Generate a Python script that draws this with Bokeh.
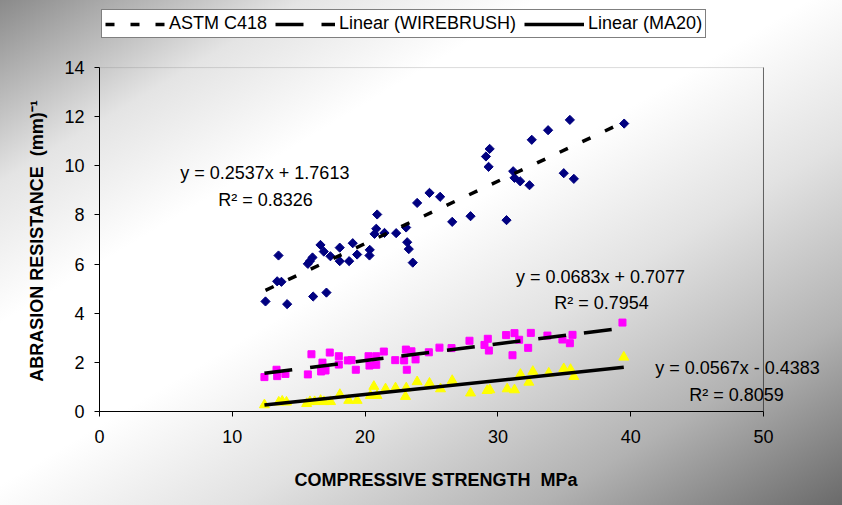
import numpy as np
from bokeh.plotting import figure
from bokeh.models import Range1d, Label, Legend, LegendItem, BoxAnnotation, FixedTicker
from bokeh.embed import file_html
from bokeh.resources import INLINE

# ---------------- data ----------------
blue_x = [12.50, 14.13, 13.48, 13.38, 13.70, 16.09, 17.09, 15.69, 15.84, 16.04,
          16.64, 16.89, 17.39, 18.09, 18.09, 18.80, 19.07, 19.40, 20.35, 20.33,
          20.71, 20.84, 20.91, 21.46, 22.34, 23.09, 23.17, 23.29, 23.59, 23.92,
          24.85, 25.65, 26.56, 27.94, 29.10, 29.38, 29.30, 30.65, 31.15, 31.25,
          31.68, 32.38, 32.55, 33.78, 34.96, 35.42, 35.72, 39.51]
blue_y = [4.48, 4.37, 6.35, 5.30, 5.28, 4.68, 4.84, 6.01, 6.12, 6.27,
          6.78, 6.51, 6.32, 6.67, 6.12, 6.12, 6.85, 6.39, 6.58, 6.35,
          7.23, 7.44, 8.02, 7.27, 7.26, 7.49, 6.89, 6.61, 6.06, 8.49,
          8.90, 8.74, 7.72, 7.95, 10.38, 10.69, 9.96, 7.79, 9.78, 9.51,
          9.37, 9.21, 11.06, 11.45, 9.70, 11.87, 9.47, 11.72]

pink_x = [12.42, 13.33, 13.38, 14.00, 15.96, 15.69, 16.79, 16.69, 17.02, 17.34,
          18.02, 18.02, 18.70, 18.98, 19.30, 20.26, 20.84, 20.33, 20.84, 21.41,
          22.27, 22.94, 23.07, 23.49, 23.14, 23.80, 24.80, 25.60, 26.51, 27.86,
          29.24, 28.99, 29.32, 30.62, 31.25, 31.60, 31.10, 32.48, 32.28, 33.73,
          34.86, 35.62, 35.42, 39.38]
pink_y = [1.40, 1.70, 1.44, 1.53, 2.33, 1.51, 1.99, 1.63, 1.67, 2.40,
          2.25, 1.91, 2.08, 2.09, 1.70, 2.25, 2.25, 1.87, 1.90, 2.44,
          2.09, 2.08, 2.52, 2.45, 1.70, 2.12, 2.41, 2.60, 2.58, 2.88,
          2.96, 2.71, 2.48, 3.11, 3.19, 2.92, 2.29, 3.20, 2.59, 3.09,
          2.93, 3.12, 2.78, 3.62]

yellow_x = [12.42, 13.50, 13.76, 14.08, 15.60, 15.85, 16.20, 16.65, 16.90, 17.40,
            18.10, 18.77, 19.40, 20.66, 20.40, 20.90, 21.54, 22.29, 23.10, 23.04,
            23.92, 24.85, 25.68, 26.56, 27.94, 29.19, 29.39, 30.70, 31.25, 31.70,
            32.33, 32.63, 33.83, 34.96, 35.47, 35.72, 39.48]
yellow_y = [0.27, 0.38, 0.42, 0.38, 0.32, 0.40, 0.40, 0.45, 0.40, 0.40,
            0.69, 0.45, 0.45, 1.02, 0.65, 0.65, 0.92, 0.96, 0.96, 0.61,
            1.21, 1.15, 0.92, 1.26, 0.75, 0.85, 0.88, 0.92, 0.88, 1.51,
            1.19, 1.63, 1.56, 1.74, 1.71, 1.42, 2.21]

# trendline coefficients (slope, intercept) as printed on the chart
fit_blue = (0.2537, 1.7613)
fit_pink = (0.0683, 0.7077)
fit_yellow = (0.0567, -0.4383)

legend_labels = ["ASTM C418", "Linear (WIREBRUSH)", "Linear (MA20)"]
eq_texts = ["y = 0.2537x + 1.7613", "R\u00b2 = 0.8326",
            "y = 0.0683x + 0.7077", "R\u00b2 = 0.7954",
            "y = 0.0567x - 0.4383", "R\u00b2 = 0.8059"]

x_title = "COMPRESSIVE STRENGTH\u00a0\u00a0MPa"
y_title = "ABRASION RESISTANCE\u00a0\u00a0(mm)\u207b\u00b9"

x_ticks = [0, 10, 20, 30, 40, 50]
y_ticks = [0, 2, 4, 6, 8, 10, 12, 14]
x_max, y_max = 50, 14

# ---------------- figure ----------------
FONT = "Liberation Sans"
PAD = "\u00a0" * 14   # keeps the axis titles centred on the 0..50 / 0..14 axes
p = figure(width=842, height=505, x_range=Range1d(0, 55.95), y_range=Range1d(0, 16.73),
           output_backend="svg", toolbar_location=None,
           min_border_left=99, min_border_right=0, min_border_top=0, min_border_bottom=94,
           background_fill_color=None, border_fill_color=None,
           outline_line_color=None,
           styles={"background": "linear-gradient(to bottom right, #8a8a8a 0%, #e4e4e4 18%, "
                                 "#ffffff 32%, #ffffff 48%, #e2e2e2 64%, #b2b2b2 82%, #6a6a6a 100%)"})
p.xgrid.visible = False
p.ygrid.visible = False

for ax in (p.xaxis[0], p.yaxis[0]):
    ax.axis_line_color = "black"
    ax.major_tick_line_color = "black"
    ax.major_tick_out = 5
    ax.major_tick_in = 0
    ax.minor_tick_line_color = None
    ax.major_label_text_font = FONT
    ax.major_label_text_font_size = "18px"
    ax.major_label_text_color = "black"
    ax.axis_label_text_font = FONT
    ax.axis_label_text_font_size = "18px"
    ax.axis_label_text_font_style = "bold"
    ax.axis_label_text_color = "black"

p.xaxis.ticker = FixedTicker(ticks=x_ticks)
p.yaxis.ticker = FixedTicker(ticks=y_ticks)
p.xaxis.bounds = (0, x_max)
p.yaxis.bounds = (0, y_max)
p.xaxis.axis_label = x_title + PAD
p.yaxis.axis_label = y_title + PAD
p.xaxis.major_label_standoff = 13
p.yaxis.major_label_standoff = 10
p.xaxis.axis_label_standoff = 24
p.yaxis.axis_label_standoff = 14

# plot-area border: grey top, black right
p.add_layout(BoxAnnotation(left=0, right=x_max, bottom=0, top=y_max, fill_color=None,
                           line_color="#8c8c8c", line_width=1, level="underlay"))
p.add_layout(BoxAnnotation(left=x_max, right=x_max, bottom=0, top=y_max, fill_color=None,
                           line_color="black", line_width=1, level="underlay"))

# scatter series
p.scatter(blue_x, blue_y, marker="square", angle=np.pi / 4, size=6.5,
          fill_color="#000080", line_color="#000080")
p.scatter(pink_x, pink_y, marker="square", size=7,
          fill_color="#FF00FF", line_color="#FF00FF")
p.scatter(yellow_x, yellow_y, marker="triangle", size=10,
          fill_color="#FFFF00", line_color="#FFFF00")

def trend(xs, fit):
    xe = np.array([min(xs), max(xs)])
    return xe, fit[0] * xe + fit[1]

bx, by = trend(blue_x, fit_blue)
px_, py_ = trend(pink_x, fit_pink)
yx, yy = trend(yellow_x, fit_yellow)

r_blue = p.line(bx, by, line_color="black", line_width=3.5, line_dash="9 16")
r_pink = p.line(px_, py_, line_color="black", line_width=3.5, line_dash="28 18")
r_yel = p.line(yx, yy, line_color="black", line_width=3.5)

# equation labels
eq_pos = [(12.45, 9.69), (12.5, 8.59), (37.73, 5.49), (37.8, 4.40), (48.04, 1.79), (47.97, 0.69)]
for t, (lx, ly) in zip(eq_texts, eq_pos):
    p.add_layout(Label(x=lx, y=ly, text=t, text_align="center", text_baseline="middle",
                       text_font=FONT, text_font_size="18px", text_color="black"))

legend = Legend(items=[LegendItem(label=legend_labels[0], renderers=[r_blue]),
                       LegendItem(label=legend_labels[1], renderers=[r_pink]),
                       LegendItem(label=legend_labels[2], renderers=[r_yel])],
                location=(2, 373), orientation="horizontal",
                glyph_width=60, glyph_height=20, label_height=20,
                label_standoff=4, spacing=8, padding=3, margin=0,
                border_line_color="black", border_line_width=1,
                background_fill_color="white", background_fill_alpha=1,
                label_text_font=FONT, label_text_font_size="18px", label_text_color="black")
p.add_layout(legend, "center")

open("out.html", "w").write(file_html(p, INLINE))
